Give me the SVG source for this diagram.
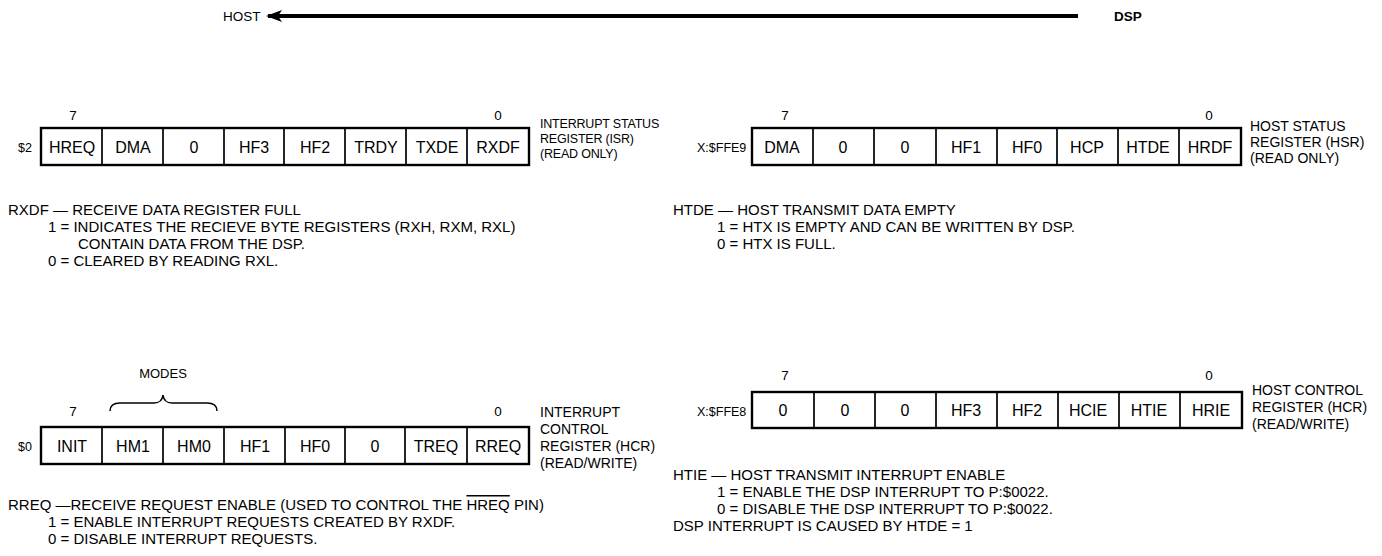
<svg xmlns="http://www.w3.org/2000/svg" width="1382" height="556" viewBox="0 0 1382 556">
<style>
text{font-family:"Liberation Sans",Arial,sans-serif;fill:#000;}
.cell{font-size:16px;text-anchor:middle;}
.bit{font-size:13.5px;text-anchor:middle;}
.addr{font-size:12.5px;}
.lbl{font-size:14px;}
.lbl2{font-size:12.5px;letter-spacing:-0.2px;}
.desc{font-size:15px;}
.box{fill:#fff;stroke:#000;stroke-width:2.4;}
.div{stroke:#000;stroke-width:1.7;}
</style>
<defs>
<marker id="ah" viewBox="0 0 16 12" refX="14" refY="6" markerWidth="16" markerHeight="12" markerUnits="userSpaceOnUse" orient="auto">
<path d="M0,0 L16,6 L0,12 L4,6 Z" fill="#000"/>
</marker>
</defs>

<g id="direction">
<text x="223" y="21" style="font-size:13.5px">HOST</text>
<text x="1114" y="21" style="font-size:13.5px;font-weight:bold">DSP</text>
</g>
<g id="connectors">
<line x1="1078" y1="16" x2="268" y2="16" stroke="#000" stroke-width="4" marker-end="url(#ah)"/>
</g>

<g id="isr">
<text class="bit" x="73" y="120">7</text>
<text class="bit" x="498" y="120">0</text>
<text class="addr" x="18" y="152">$2</text>
<rect class="box" x="41" y="128" width="488" height="37"/>
<g class="div"><line x1="102" y1="128" x2="102" y2="165"/><line x1="163" y1="128" x2="163" y2="165"/><line x1="224" y1="128" x2="224" y2="165"/><line x1="284" y1="128" x2="284" y2="165"/><line x1="345" y1="128" x2="345" y2="165"/><line x1="406" y1="128" x2="406" y2="165"/><line x1="467" y1="128" x2="467" y2="165"/></g>
<text class="cell" x="72" y="153">HREQ</text>
<text class="cell" x="133" y="153">DMA</text>
<text class="cell" x="194" y="153">0</text>
<text class="cell" x="254" y="153">HF3</text>
<text class="cell" x="315" y="153">HF2</text>
<text class="cell" x="376" y="153">TRDY</text>
<text class="cell" x="437" y="153">TXDE</text>
<text class="cell" x="498" y="153">RXDF</text>
<text class="lbl2" x="540" y="128">INTERRUPT STATUS</text>
<text class="lbl2" x="540" y="143">REGISTER (ISR)</text>
<text class="lbl2" x="540" y="158">(READ ONLY)</text>
<text class="desc" x="8" y="215">RXDF — RECEIVE DATA REGISTER FULL</text>
<text class="desc" x="48" y="232">1 = INDICATES THE RECIEVE BYTE REGISTERS (RXH, RXM, RXL)</text>
<text class="desc" x="78" y="249">CONTAIN DATA FROM THE DSP.</text>
<text class="desc" x="48" y="266">0 = CLEARED BY READING RXL.</text>
</g>

<g id="hsr">
<text class="bit" x="785" y="120">7</text>
<text class="bit" x="1209" y="120">0</text>
<text class="addr" x="697" y="152">X:$FFE9</text>
<rect class="box" x="752" y="128" width="489" height="37"/>
<g class="div"><line x1="813" y1="128" x2="813" y2="165"/><line x1="874" y1="128" x2="874" y2="165"/><line x1="936" y1="128" x2="936" y2="165"/><line x1="997" y1="128" x2="997" y2="165"/><line x1="1057" y1="128" x2="1057" y2="165"/><line x1="1118" y1="128" x2="1118" y2="165"/><line x1="1179" y1="128" x2="1179" y2="165"/></g>
<text class="cell" x="782" y="153">DMA</text>
<text class="cell" x="843" y="153">0</text>
<text class="cell" x="905" y="153">0</text>
<text class="cell" x="966" y="153">HF1</text>
<text class="cell" x="1027" y="153">HF0</text>
<text class="cell" x="1087" y="153">HCP</text>
<text class="cell" x="1148" y="153">HTDE</text>
<text class="cell" x="1210" y="153">HRDF</text>
<text class="lbl" x="1250" y="131">HOST STATUS</text>
<text class="lbl" x="1250" y="147">REGISTER (HSR)</text>
<text class="lbl" x="1250" y="163">(READ ONLY)</text>
<text class="desc" x="673" y="215">HTDE — HOST TRANSMIT DATA EMPTY</text>
<text class="desc" x="717" y="232">1 = HTX IS EMPTY AND CAN BE WRITTEN BY DSP.</text>
<text class="desc" x="717" y="249">0 = HTX IS FULL.</text>
</g>

<g id="icr">
<text style="font-size:13px" x="163" y="378" text-anchor="middle">MODES</text>
<path d="M110,411 Q110,403 120,403 L154,403 Q162,403 163,395 Q164,403 172,403 L207,403 Q217,403 217,411" fill="none" stroke="#000" stroke-width="1.5"/>
<text class="bit" x="73" y="416">7</text>
<text class="bit" x="498" y="416">0</text>
<text class="addr" x="18" y="451">$0</text>
<rect class="box" x="41" y="427" width="488" height="37"/>
<g class="div"><line x1="102" y1="427" x2="102" y2="464"/><line x1="163" y1="427" x2="163" y2="464"/><line x1="224" y1="427" x2="224" y2="464"/><line x1="285" y1="427" x2="285" y2="464"/><line x1="345" y1="427" x2="345" y2="464"/><line x1="405" y1="427" x2="405" y2="464"/><line x1="467" y1="427" x2="467" y2="464"/></g>
<text class="cell" x="72" y="452">INIT</text>
<text class="cell" x="133" y="452">HM1</text>
<text class="cell" x="194" y="452">HM0</text>
<text class="cell" x="255" y="452">HF1</text>
<text class="cell" x="315" y="452">HF0</text>
<text class="cell" x="375" y="452">0</text>
<text class="cell" x="436" y="452">TREQ</text>
<text class="cell" x="498" y="452">RREQ</text>
<text class="lbl" x="540" y="417">INTERRUPT</text>
<text class="lbl" x="540" y="434">CONTROL</text>
<text class="lbl" x="540" y="451">REGISTER (HCR)</text>
<text class="lbl" x="540" y="468">(READ/WRITE)</text>
<text class="desc" x="8" y="510">RREQ —RECEIVE REQUEST ENABLE (USED TO CONTROL THE <tspan style="text-decoration:overline">HREQ</tspan> PIN)</text>
<text class="desc" x="48" y="527">1 = ENABLE INTERRUPT REQUESTS CREATED BY RXDF.</text>
<text class="desc" x="48" y="544">0 = DISABLE INTERRUPT REQUESTS.</text>
</g>

<g id="hcr">
<text class="bit" x="785" y="380">7</text>
<text class="bit" x="1209" y="380">0</text>
<text class="addr" x="697" y="416">X:$FFE8</text>
<rect class="box" x="752" y="392" width="490" height="36"/>
<g class="div"><line x1="814" y1="392" x2="814" y2="428"/><line x1="875" y1="392" x2="875" y2="428"/><line x1="936" y1="392" x2="936" y2="428"/><line x1="997" y1="392" x2="997" y2="428"/><line x1="1058" y1="392" x2="1058" y2="428"/><line x1="1119" y1="392" x2="1119" y2="428"/><line x1="1180" y1="392" x2="1180" y2="428"/></g>
<text class="cell" x="783" y="416">0</text>
<text class="cell" x="845" y="416">0</text>
<text class="cell" x="905" y="416">0</text>
<text class="cell" x="966" y="416">HF3</text>
<text class="cell" x="1027" y="416">HF2</text>
<text class="cell" x="1088" y="416">HCIE</text>
<text class="cell" x="1149" y="416">HTIE</text>
<text class="cell" x="1211" y="416">HRIE</text>
<text class="lbl" x="1252" y="395">HOST CONTROL</text>
<text class="lbl" x="1252" y="412">REGISTER (HCR)</text>
<text class="lbl" x="1252" y="429">(READ/WRITE)</text>
<text class="desc" x="673" y="480">HTIE — HOST TRANSMIT INTERRUPT ENABLE</text>
<text class="desc" x="717" y="497">1 = ENABLE THE DSP INTERRUPT TO P:$0022.</text>
<text class="desc" x="717" y="514">0 = DISABLE THE DSP INTERRUPT TO P:$0022.</text>
<text class="desc" x="673" y="531">DSP INTERRUPT IS CAUSED BY HTDE = 1</text>
</g>
</svg>
